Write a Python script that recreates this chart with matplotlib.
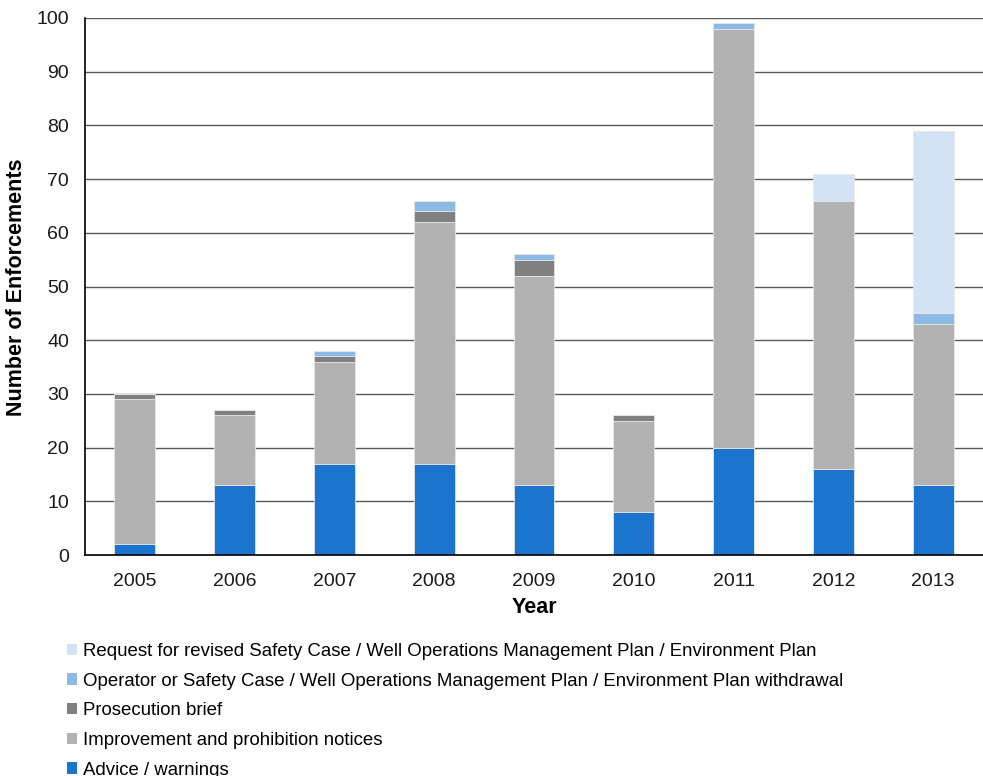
import matplotlib
matplotlib.use("Agg")
import matplotlib.pyplot as plt
import numpy as np
from matplotlib.patches import Patch

plt.rcParams['font.family'] = ['Liberation Sans', 'DejaVu Sans']

years = ["2005", "2006", "2007", "2008", "2009", "2010", "2011", "2012", "2013"]
advice = [2, 13, 17, 17, 13, 8, 20, 16, 13]
improvement = [27, 13, 19, 45, 39, 17, 78, 50, 30]
prosecution = [1, 1, 1, 2, 3, 1, 0, 0, 0]
withdrawal = [0, 0, 1, 2, 1, 0, 1, 0, 2]
revised_request = [0, 0, 0, 0, 0, 0, 0, 5, 34]

series = [
    ("Advice / warnings", advice, "#1B75CF"),
    ("Improvement and prohibition notices", improvement, "#B2B2B2"),
    ("Prosecution brief", prosecution, "#808080"),
    ("Operator or Safety Case / Well Operations Management Plan / Environment Plan withdrawal",
     withdrawal, "#8DB9E5"),
    ("Request for revised Safety Case / Well Operations Management Plan / Environment Plan",
     revised_request, "#D3E3F5"),
]

W, H = 983, 776
fig = plt.figure(figsize=(W / 100, H / 100), dpi=100)
ax = fig.add_axes([85 / W, 1 - 555 / H, (983 - 85) / W, (555 - 18) / H])

x = np.arange(len(years))
bottom = np.zeros(len(years))
for label, vals, color in series:
    vals = np.array(vals, dtype=float)
    ax.bar(x, vals, width=0.41, bottom=bottom, color=color, edgecolor="#e6e6e6",
           linewidth=0.6, label=label, zorder=3)
    bottom += vals

ax.set_xlim(-0.5, len(years) - 0.5)
ax.set_ylim(0, 100)
ax.set_yticks(np.arange(0, 101, 10))
ax.set_xticks(x)
ax.set_xticklabels(years)
ax.tick_params(axis="both", length=0, labelsize=14, colors="#1a1a1a")
ax.tick_params(axis="x", pad=13)
ax.tick_params(axis="y", pad=11.5)
ax.grid(axis="y", color="#5a5a5a", linewidth=1.0, zorder=0)
for s in ["top", "right"]:
    ax.spines[s].set_visible(False)
for s in ["left", "bottom"]:
    ax.spines[s].set_color("black")
    ax.spines[s].set_linewidth(1.2)
    ax.spines[s].set_zorder(4)

ax.set_xlabel("Year", fontsize=15.5, fontweight="bold", labelpad=5)
fig.text(17 / W, 1 - 287 / H, "Number of Enforcements", rotation=90,
         ha="center", va="center", fontsize=15.5, fontweight="bold")

handles = [Patch(facecolor=c, edgecolor="none") for _, _, c in series][::-1]
labels = [l for l, _, _ in series][::-1]
fig.legend(handles, labels, loc="upper left", bbox_to_anchor=(67 / W, 1 - 643 / H),
           frameon=False, fontsize=13.4, handlelength=0.55, handleheight=0.55,
           handletextpad=0.3, labelspacing=0.68, borderaxespad=0, borderpad=0)

fig.savefig("out.png", dpi=100)
